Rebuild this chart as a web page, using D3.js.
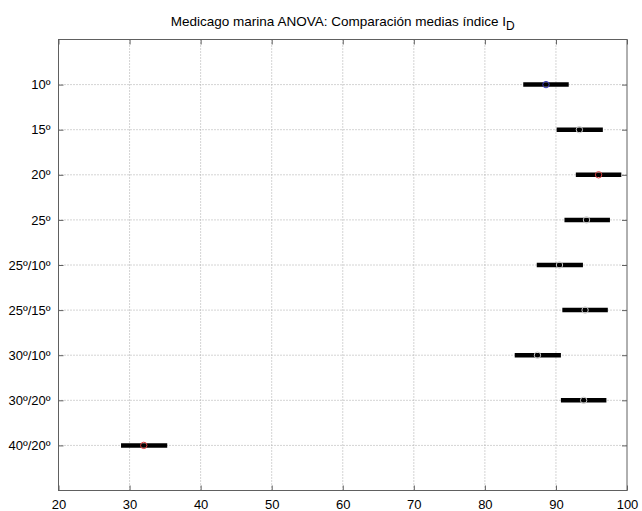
<!DOCTYPE html>
<html><head><meta charset="utf-8">
<script src="https://cdn.jsdelivr.net/npm/d3@7"></script>
<style>
body{margin:0;background:#fff;}
text{font-family:"Liberation Sans",Arial,sans-serif;}
</style></head>
<body><svg id="c" width="642" height="511"></svg>
<script>
const categories = ["10º","15º","20º","25º","25º/10º","25º/15º","30º/10º","30º/20º","40º/20º"];
const means = [88.6, 93.3, 96.0, 94.3, 90.5, 94.1, 87.4, 93.9, 32.0];
const lower = [85.4, 90.1, 92.8, 91.2, 87.3, 90.9, 84.2, 90.7, 28.8];
const upper = [91.8, 96.6, 99.2, 97.6, 93.8, 97.3, 90.7, 97.1, 35.3];
const status = ["selected","other","different","other","other","other","other","other","different"];
const xTicks = [20,30,40,50,60,70,80,90,100];
const titleText = "Medicago marina ANOVA: Comparación medias índice I";
const titleSub = "D";

const svg = d3.select("#c");
const L = 58.5, R = 627, T = 39.5, B = 490.5;
const x = d3.scaleLinear().domain([20,100]).range([L,R]);
const y = d3.scaleLinear().domain([0, categories.length+1]).range([T,B]);
const colorOf = {selected:"#3a3ab8", different:"#d84040", other:"#c8c8c8"};

// grid
const g = svg.append("g");
g.selectAll("line.vx").data(xTicks.slice(1,-1)).enter().append("line")
 .attr("x1",d=>x(d)).attr("x2",d=>x(d)).attr("y1",T).attr("y2",B)
 .attr("stroke","#a8a8a8").attr("stroke-width",1).attr("stroke-dasharray","1,2");
g.selectAll("line.hy").data(categories).enter().append("line")
 .attr("x1",L).attr("x2",R).attr("y1",(d,i)=>y(i+1)).attr("y2",(d,i)=>y(i+1))
 .attr("stroke","#a8a8a8").attr("stroke-width",1).attr("stroke-dasharray","1,2");

// axes with MATLAB-like inward ticks
const xAxis = d3.axisBottom(x).tickValues(xTicks).tickSizeInner(-5).tickSizeOuter(0).tickPadding(9);
const xa = svg.append("g").attr("transform",`translate(0,${B})`).call(xAxis);
xa.selectAll("text").attr("font-size",13).attr("fill","#000").attr("font-family","Liberation Sans, Arial");
const xTop = d3.axisTop(x).tickValues(xTicks).tickSizeInner(-5).tickSizeOuter(0).tickFormat("");
svg.append("g").attr("transform",`translate(0,${T})`).call(xTop);

const yAxis = d3.axisLeft(y).tickValues(d3.range(1,categories.length+1))
 .tickFormat(d=>categories[d-1]).tickSizeInner(-5).tickSizeOuter(0).tickPadding(8);
const ya = svg.append("g").attr("transform",`translate(${L},0)`).call(yAxis);
ya.selectAll("text").attr("font-size",13).attr("fill","#000").attr("font-family","Liberation Sans, Arial");
const yRight = d3.axisRight(y).tickValues(d3.range(1,categories.length+1)).tickSizeInner(-5).tickSizeOuter(0).tickFormat("");
svg.append("g").attr("transform",`translate(${R},0)`).call(yRight);
svg.selectAll(".domain").remove();
svg.selectAll(".tick line").attr("stroke","#606060");

svg.append("rect").attr("x",L).attr("y",T).attr("width",R-L).attr("height",B-T)
 .attr("fill","none").attr("stroke","#606060").attr("stroke-width",1);

// interval bars
svg.selectAll("line.bar").data(categories).enter().append("line")
 .attr("x1",(d,i)=>x(lower[i])).attr("x2",(d,i)=>x(upper[i]))
 .attr("y1",(d,i)=>y(i+1)).attr("y2",(d,i)=>y(i+1))
 .attr("stroke","#000").attr("stroke-width",4.5);
// means
svg.selectAll("circle.m").data(categories).enter().append("circle")
 .attr("cx",(d,i)=>x(means[i])).attr("cy",(d,i)=>y(i+1)).attr("r",3.2)
 .attr("fill","none").attr("stroke",(d,i)=>colorOf[status[i]]).attr("stroke-width",1);

// title
const t = svg.append("text").attr("x",(L+R)/2).attr("y",26).attr("text-anchor","middle")
 .attr("font-size",13.5).attr("fill","#000");
t.append("tspan").text(titleText);
t.append("tspan").attr("dy",4).attr("font-size",12).text(titleSub);
</script></body></html>
